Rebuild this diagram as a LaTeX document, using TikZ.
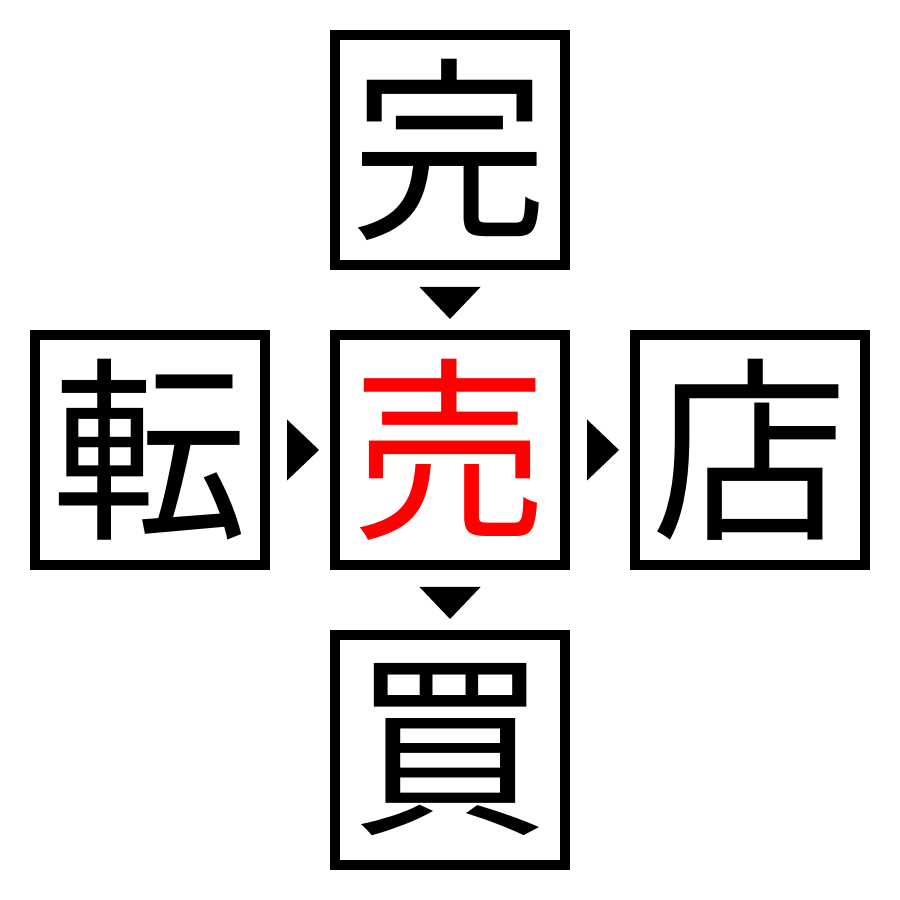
\documentclass[tikz,border=0pt]{standalone}
\usepackage{fontspec}
\newfontfamily\jp{Noto Sans CJK JP}
\usetikzlibrary{calc}
\begin{document}
\begin{tikzpicture}[box/.style={draw,line width=0.1cm,minimum size=2.3cm,inner sep=0pt,font=\jp\fontsize{56}{60}\selectfont}]
	\useasboundingbox (0,0) rectangle (9,9);
	\node[box] (top) at (4.5,7.5) {完};
	\node[box,text=red] (mid) at (4.5,4.5) {売};
	\node[box] (left) at (1.5,4.5) {転};
	\node[box] (right) at (7.5,4.5) {店};
	\node[box] (bottom) at (4.5,1.5) {買};
	% arrow heads between the boxes
	\fill ($(top.south)+(-0.305,-0.17)$) -- ($(top.south)+(0.305,-0.17)$) -- ($(mid.north)+(0,0.11)$) -- cycle;
	\fill ($(mid.south)+(-0.305,-0.17)$) -- ($(mid.south)+(0.305,-0.17)$) -- ($(bottom.north)+(0,0.11)$) -- cycle;
	\fill ($(left.east)+(0.17,0.305)$) -- ($(left.east)+(0.17,-0.305)$) -- ($(mid.west)+(-0.11,0)$) -- cycle;
	\fill ($(mid.east)+(0.17,0.305)$) -- ($(mid.east)+(0.17,-0.305)$) -- ($(right.west)+(-0.11,0)$) -- cycle;
\end{tikzpicture}
\end{document}
